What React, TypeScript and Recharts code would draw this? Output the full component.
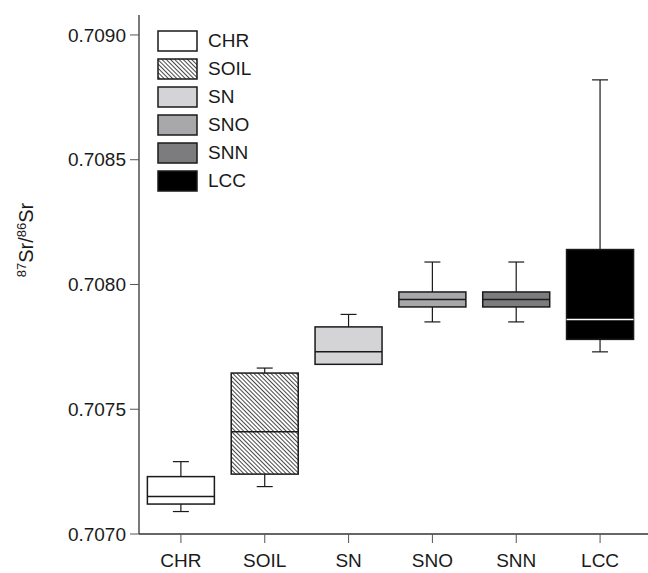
import React from "react";
import { ComposedChart, Bar, XAxis, YAxis, Legend } from "recharts";

const categories = ["CHR", "SOIL", "SN", "SNO", "SNN", "LCC"];
const whiskerLow = [0.70709, 0.70719, 0.70768, 0.70785, 0.70785, 0.70773];
const q1 = [0.70712, 0.70724, 0.70768, 0.70791, 0.70791, 0.70778];
const median = [0.70715, 0.70741, 0.70773, 0.70794, 0.70794, 0.70786];
const q3 = [0.70723, 0.707645, 0.70783, 0.70797, 0.70797, 0.70814];
const whiskerHigh = [0.70729, 0.707665, 0.70788, 0.70809, 0.70809, 0.70882];
const yTicks = [0.707, 0.7075, 0.708, 0.7085, 0.709];
const yMax = 0.70908;

const FILLS = ["#ffffff", "url(#soilHatch)", "#d4d4d7", "#a8a8aa", "#7c7c7f", "#000000"];
const LEGEND_FILLS = ["#ffffff", "url(#legendHatch)", "#d4d4d7", "#a8a8aa", "#7c7c7f", "#000000"];
const MEDIAN_STROKE = ["#1a1a1a", "#1a1a1a", "#1a1a1a", "#1a1a1a", "#1a1a1a", "#ffffff"];

const FONT = '"Liberation Sans", Arial, sans-serif';

const data = categories.map((name, i) => ({
  name,
  low: whiskerLow[i],
  q1: q1[i],
  median: median[i],
  q3: q3[i],
  high: whiskerHigh[i],
  box: [q1[i], q3[i]],
}));

// box + whiskers, positions taken from the bar's own scaled y/height
const BoxShape = (props: any) => {
  const { x, y, width, height, payload } = props;
  const i = categories.indexOf(payload.name);
  const ppu = height / (payload.q3 - payload.q1);
  const toY = (v: number) => y + (payload.q3 - v) * ppu;
  const cx = x + width / 2;
  const cap = 8;
  const hi = toY(payload.high);
  const lo = toY(payload.low);
  const med = toY(payload.median);
  return (
    <g>
      <line x1={cx} x2={cx} y1={hi} y2={y} stroke="#1a1a1a" strokeWidth={1.2} />
      <line x1={cx - cap} x2={cx + cap} y1={hi} y2={hi} stroke="#1a1a1a" strokeWidth={1.2} />
      <line x1={cx} x2={cx} y1={y + height} y2={lo} stroke="#1a1a1a" strokeWidth={1.2} />
      <line x1={cx - cap} x2={cx + cap} y1={lo} y2={lo} stroke="#1a1a1a" strokeWidth={1.2} />
      <rect x={x} y={y} width={width} height={height} fill={FILLS[i]} stroke="#1a1a1a" strokeWidth={1.5} />
      <line x1={x} x2={x + width} y1={med} y2={med} stroke={MEDIAN_STROKE[i]} strokeWidth={1.5} />
    </g>
  );
};

const LegendContent = () => (
  <div style={{ fontFamily: FONT, fontSize: 19, color: "#1a1a1a" }}>
    <svg width={0} height={0} style={{ position: "absolute" }}>
      <defs>
        <pattern id="legendHatch" width={3} height={3} patternUnits="userSpaceOnUse" patternTransform="rotate(45)">
          <rect width={3} height={3} fill="#ffffff" />
          <line x1={0} y1={0.5} x2={3} y2={0.5} stroke="#333" strokeWidth={0.9} />
        </pattern>
      </defs>
    </svg>
    {categories.map((c, i) => (
      <div key={c} style={{ display: "flex", alignItems: "center", height: 28 }}>
        <svg width={42} height={22}>
          <rect x={1} y={1} width={39} height={20} fill={LEGEND_FILLS[i]} stroke="#1a1a1a" strokeWidth={1.5} />
        </svg>
        <span style={{ marginLeft: 9 }}>{c}</span>
      </div>
    ))}
  </div>
);

const YLabel = () => (
  <text
    x={33}
    y={240}
    transform="rotate(-90, 33, 240)"
    textAnchor="middle"
    fontFamily={FONT}
    fontSize={20}
    fill="#1a1a1a"
  >
    <tspan fontSize={13} dy={-7}>87</tspan>
    <tspan dy={7}>Sr/</tspan>
    <tspan fontSize={13} dy={-7}>86</tspan>
    <tspan dy={7}>Sr</tspan>
  </text>
);

export default function App() {
  return (
    <div style={{ position: "absolute", left: 0, top: 0, width: 648, height: 573, background: "#fff" }}>
      <ComposedChart
        width={648}
        height={573}
        data={data}
        margin={{ top: 15, right: 0, bottom: 0, left: 0 }}
        barCategoryGap="10%"
      >
        <defs>
          <pattern id="soilHatch" width={3} height={3} patternUnits="userSpaceOnUse" patternTransform="rotate(45)">
            <rect width={3} height={3} fill="#ffffff" />
            <line x1={0} y1={0.5} x2={3} y2={0.5} stroke="#333" strokeWidth={0.9} />
          </pattern>
        </defs>
        <XAxis
          dataKey="name"
          height={39}
          padding={{ left: 0, right: 6 }}
          tickSize={9}
          tickMargin={11}
          axisLine={{ stroke: "#333", strokeWidth: 1.3 }}
          tickLine={{ stroke: "#555" }}
          tick={{ fill: "#1a1a1a", fontSize: 19, fontFamily: FONT }}
        />
        <XAxis
          xAxisId="top"
          dataKey="name"
          orientation="top"
          height={0}
          tick={false}
          tickLine={false}
          axisLine={{ stroke: "#555", strokeWidth: 1.3 }}
        />
        <YAxis
          width={139}
          domain={[0.707, yMax]}
          ticks={yTicks}
          allowDataOverflow
          tickFormatter={(v: number) => v.toFixed(4)}
          tickSize={9}
          tickMargin={4}
          axisLine={{ stroke: "#333", strokeWidth: 1.3 }}
          tickLine={{ stroke: "#555" }}
          tick={{ fill: "#1a1a1a", fontSize: 19, fontFamily: FONT }}
          label={<YLabel />}
        />
        <Bar dataKey="box" shape={<BoxShape />} isAnimationActive={false} />
        <Legend
          layout="vertical"
          align="center"
          verticalAlign="middle"
          content={<LegendContent />}
          wrapperStyle={{ position: "absolute", left: 157, top: 27, width: 120, height: "auto" }}
        />
      </ComposedChart>
    </div>
  );
}
